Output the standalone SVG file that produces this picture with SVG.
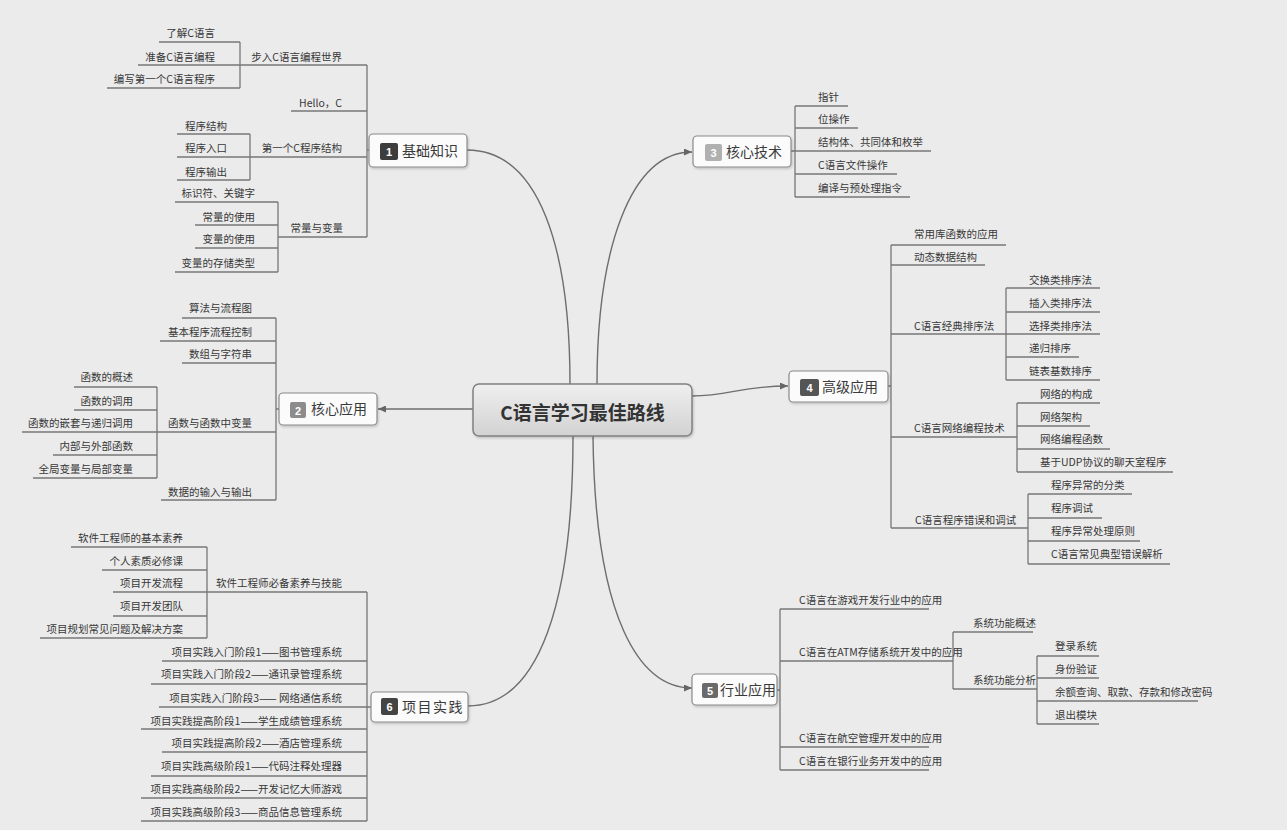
<svg xmlns="http://www.w3.org/2000/svg" width="1287" height="830" viewBox="0 0 1287 830">
<defs>
<style>
.t{font-family:"Noto Sans CJK SC","Liberation Sans",sans-serif;font-size:10.5px;fill:#383838}
.r{text-anchor:end}
.u{stroke:#777;stroke-width:1.3;fill:none}
.c{stroke:#777;stroke-width:1.3;fill:none}
.m{stroke:#6e6e6e;stroke-width:1.4;fill:none}
.box{fill:#fbfbfb;stroke:#8a8a8a;stroke-width:1.2}
.mt{font-family:"Noto Sans CJK SC","Liberation Sans",sans-serif;font-size:14px;fill:#3a3a3a}
.ic{font-family:"Liberation Sans",sans-serif;font-size:11px;font-weight:bold;fill:#fff;text-anchor:middle}
</style>
<linearGradient id="cg" x1="0" y1="0" x2="0" y2="1">
<stop offset="0" stop-color="#efefef"/>
<stop offset="1" stop-color="#d2d2d2"/>
</linearGradient>
<filter id="sh" x="-10%" y="-20%" width="120%" height="150%">
<feDropShadow dx="1" dy="1.5" stdDeviation="1" flood-color="#000" flood-opacity="0.18"/>
</filter>
<marker id="ar" markerUnits="userSpaceOnUse" markerWidth="8" markerHeight="7" refX="8" refY="3.5" orient="auto">
<path d="M0,0 L8,3.5 L0,7 z" fill="#666"/>
</marker>
</defs>
<rect width="1287" height="830" fill="#ebebeb"/>

<g id="connectors">
<path class="m" d="M570,384 C570,250 540,150 467,150"/>
<path class="m" d="M597,384 C597,250 630,152 692,152" marker-end="url(#ar)"/>
<path class="m" d="M473,409 L378,409" marker-end="url(#ar)"/>
<path class="m" d="M692,396 C730,396 740,386 788,386" marker-end="url(#ar)"/>
<path class="m" d="M573,436 C573,600 540,706 468,706"/>
<path class="m" d="M593,436 C595,620 640,688 692,688" marker-end="url(#ar)"/>
<path class="c" d="M369,150 H367 M367,65 V237"/>
<path class="c" d="M240,42 V88"/>
<path class="c" d="M250,134 V180"/>
<path class="c" d="M278,202 V272"/>
<path class="c" d="M279,409 H276 M276,318 V500"/>
<path class="c" d="M157,387 V478"/>
<path class="c" d="M371,707 H367 M367,592 V821"/>
<path class="c" d="M207,547 V638"/>
<path class="c" d="M791,151 H795 M795,106 V197"/>
<path class="c" d="M888,386 H891 M891,245 V528"/>
<path class="c" d="M1006,288 V380"/>
<path class="c" d="M1017,403 V472"/>
<path class="c" d="M1028,494 V564"/>
<path class="c" d="M777,690 H780 M780,609 V770"/>
<path class="c" d="M953,632 V689"/>
<path class="c" d="M1037,656 V724"/>
</g>

<g id="root">
<rect x="473" y="384" width="219" height="52" rx="6" fill="url(#cg)" stroke="#808080" stroke-width="1.5" filter="url(#sh)"/>
<text x="582.5" y="420" text-anchor="middle" font-family="'Noto Sans CJK SC','Liberation Sans',sans-serif" font-size="19" font-weight="bold" fill="#333">C语言学习最佳路线</text>
</g>

<g id="n1">
<rect class="box" x="369" y="134" width="98" height="33" rx="4" filter="url(#sh)"/>
<rect x="380" y="143" width="18" height="17" rx="2" fill="#3d3d3d"/>
<text class="ic" x="389" y="156">1</text>
<text class="mt" x="402" y="155.5">基础知识</text>
</g>
<g id="n1-1"><path class="u" d="M240,65 H367"/><text class="t r" x="342" y="61">步入C语言编程世界</text></g>
<g id="n1-1-1"><path class="u" d="M159,42 H240"/><text class="t r" x="215" y="37">了解C语言</text></g>
<g id="n1-1-2"><path class="u" d="M138,65 H240"/><text class="t r" x="215" y="61">准备C语言编程</text></g>
<g id="n1-1-3"><path class="u" d="M107,88 H240"/><text class="t r" x="215" y="83">编写第一个C语言程序</text></g>
<g id="n1-2"><path class="u" d="M291,111 H367"/><text class="t r" x="342" y="107">Hello，C</text></g>
<g id="n1-3"><path class="u" d="M250,157 H367"/><text class="t r" x="342" y="152">第一个C程序结构</text></g>
<g id="n1-3-1"><path class="u" d="M177,134 H250"/><text class="t r" x="227" y="130">程序结构</text></g>
<g id="n1-3-2"><path class="u" d="M177,157 H250"/><text class="t r" x="227" y="152">程序入口</text></g>
<g id="n1-3-3"><path class="u" d="M177,180 H250"/><text class="t r" x="227" y="176">程序输出</text></g>
<g id="n1-4"><path class="u" d="M278,237 H367"/><text class="t r" x="343" y="232">常量与变量</text></g>
<g id="n1-4-1"><path class="u" d="M175,202 H278"/><text class="t r" x="255" y="197">标识符、关键字</text></g>
<g id="n1-4-2"><path class="u" d="M195,225 H278"/><text class="t r" x="255" y="221">常量的使用</text></g>
<g id="n1-4-3"><path class="u" d="M195,248 H278"/><text class="t r" x="255" y="243">变量的使用</text></g>
<g id="n1-4-4"><path class="u" d="M175,272 H278"/><text class="t r" x="255" y="267">变量的存储类型</text></g>

<g id="n2">
<rect class="box" x="279" y="393" width="98" height="32" rx="4" filter="url(#sh)"/>
<rect x="290" y="402" width="16" height="16" rx="2" fill="#8c8c8c"/>
<text class="ic" x="298" y="414.5">2</text>
<text class="mt" x="311" y="414">核心应用</text>
</g>
<g id="n2-1"><path class="u" d="M182,318 H276"/><text class="t r" x="252" y="312">算法与流程图</text></g>
<g id="n2-2"><path class="u" d="M160,341 H276"/><text class="t r" x="252" y="336">基本程序流程控制</text></g>
<g id="n2-3"><path class="u" d="M182,363 H276"/><text class="t r" x="252" y="358">数组与字符串</text></g>
<g id="n2-4"><path class="u" d="M157,432 H276"/><text class="t r" x="252" y="427">函数与函数中变量</text></g>
<g id="n2-4-1"><path class="u" d="M74,387 H157"/><text class="t r" x="133" y="381">函数的概述</text></g>
<g id="n2-4-2"><path class="u" d="M74,410 H157"/><text class="t r" x="133" y="405">函数的调用</text></g>
<g id="n2-4-3"><path class="u" d="M22,432 H157"/><text class="t r" x="133" y="427">函数的嵌套与递归调用</text></g>
<g id="n2-4-4"><path class="u" d="M53,455 H157"/><text class="t r" x="133" y="450">内部与外部函数</text></g>
<g id="n2-4-5"><path class="u" d="M33,478 H157"/><text class="t r" x="133" y="473">全局变量与局部变量</text></g>
<g id="n2-5"><path class="u" d="M161,500 H276"/><text class="t r" x="252" y="496">数据的输入与输出</text></g>

<g id="n6">
<rect class="box" x="371" y="692" width="97" height="30" rx="4" filter="url(#sh)"/>
<rect x="381" y="698" width="17" height="17" rx="2" fill="#444"/>
<text class="ic" x="389.5" y="711">6</text>
<text class="mt" x="402" y="712" letter-spacing="1.5">项目实践</text>
</g>
<g id="n6-1"><path class="u" d="M207,592 H367"/><text class="t r" x="342" y="587">软件工程师必备素养与技能</text></g>
<g id="n6-1-1"><path class="u" d="M71,547 H207"/><text class="t r" x="183" y="542">软件工程师的基本素养</text></g>
<g id="n6-1-2"><path class="u" d="M102,570 H207"/><text class="t r" x="183" y="565">个人素质必修课</text></g>
<g id="n6-1-3"><path class="u" d="M113,592 H207"/><text class="t r" x="183" y="587">项目开发流程</text></g>
<g id="n6-1-4"><path class="u" d="M113,616 H207"/><text class="t r" x="183" y="610">项目开发团队</text></g>
<g id="n6-1-5"><path class="u" d="M40,638 H207"/><text class="t r" x="183" y="633">项目规划常见问题及解决方案</text></g>
<g id="n6-2"><path class="u" d="M162,661 H367"/><text class="t r" x="342" y="656">项目实践入门阶段1——图书管理系统</text></g>
<g id="n6-3"><path class="u" d="M151,684 H367"/><text class="t r" x="342" y="678">项目实践入门阶段2——通讯录管理系统</text></g>
<g id="n6-4"><path class="u" d="M159,707 H367"/><text class="t r" x="342" y="702">项目实践入门阶段3—— 网络通信系统</text></g>
<g id="n6-5"><path class="u" d="M141,729 H367"/><text class="t r" x="342" y="725">项目实践提高阶段1——学生成绩管理系统</text></g>
<g id="n6-6"><path class="u" d="M162,752 H367"/><text class="t r" x="342" y="747">项目实践提高阶段2——酒店管理系统</text></g>
<g id="n6-7"><path class="u" d="M151,776 H367"/><text class="t r" x="342" y="770">项目实践高级阶段1——代码注释处理器</text></g>
<g id="n6-8"><path class="u" d="M141,798 H367"/><text class="t r" x="342" y="793">项目实践高级阶段2——开发记忆大师游戏</text></g>
<g id="n6-9"><path class="u" d="M141,821 H367"/><text class="t r" x="342" y="816">项目实践高级阶段3——商品信息管理系统</text></g>

<g id="n3">
<rect class="box" x="693" y="136" width="98" height="31" rx="4" filter="url(#sh)"/>
<rect x="705" y="144" width="17" height="17" rx="2" fill="#b0b0b0"/>
<text class="ic" x="713.5" y="157">3</text>
<text class="mt" x="726" y="156.5">核心技术</text>
</g>
<g id="n3-1"><path class="u" d="M795,106 H848"/><text class="t" x="818" y="101">指针</text></g>
<g id="n3-2"><path class="u" d="M795,128 H858"/><text class="t" x="818" y="123">位操作</text></g>
<g id="n3-3"><path class="u" d="M795,151 H931"/><text class="t" x="818" y="146">结构体、共同体和枚举</text></g>
<g id="n3-4"><path class="u" d="M795,174 H897"/><text class="t" x="818" y="169">C语言文件操作</text></g>
<g id="n3-5"><path class="u" d="M795,197 H910"/><text class="t" x="818" y="192">编译与预处理指令</text></g>

<g id="n4">
<rect class="box" x="789" y="371" width="99" height="31" rx="4" filter="url(#sh)"/>
<rect x="800" y="379" width="19" height="17" rx="2" fill="#555"/>
<text class="ic" x="809.5" y="392">4</text>
<text class="mt" x="822" y="391.5">高级应用</text>
</g>
<g id="n4-1"><path class="u" d="M891,245 H1006"/><text class="t" x="914" y="238">常用库函数的应用</text></g>
<g id="n4-2"><path class="u" d="M891,265 H985"/><text class="t" x="914" y="261">动态数据结构</text></g>
<g id="n4-3"><path class="u" d="M891,334 H1006"/><text class="t" x="914" y="330">C语言经典排序法</text></g>
<g id="n4-3-1"><path class="u" d="M1006,288 H1100"/><text class="t" x="1029" y="284">交换类排序法</text></g>
<g id="n4-3-2"><path class="u" d="M1006,312 H1100"/><text class="t" x="1029" y="307">插入类排序法</text></g>
<g id="n4-3-3"><path class="u" d="M1006,334 H1100"/><text class="t" x="1029" y="330">选择类排序法</text></g>
<g id="n4-3-4"><path class="u" d="M1006,357 H1079"/><text class="t" x="1029" y="352">递归排序</text></g>
<g id="n4-3-5"><path class="u" d="M1006,380 H1100"/><text class="t" x="1029" y="375">链表基数排序</text></g>
<g id="n4-4"><path class="u" d="M891,437 H1017"/><text class="t" x="914" y="432">C语言网络编程技术</text></g>
<g id="n4-4-1"><path class="u" d="M1017,403 H1100"/><text class="t" x="1040" y="398">网络的构成</text></g>
<g id="n4-4-2"><path class="u" d="M1017,426 H1090"/><text class="t" x="1040" y="421">网络架构</text></g>
<g id="n4-4-3"><path class="u" d="M1017,449 H1110"/><text class="t" x="1040" y="443">网络编程函数</text></g>
<g id="n4-4-4"><path class="u" d="M1017,472 H1173"/><text class="t" x="1040" y="466">基于UDP协议的聊天室程序</text></g>
<g id="n4-5"><path class="u" d="M891,528 H1028"/><text class="t" x="915" y="524">C语言程序错误和调试</text></g>
<g id="n4-5-1"><path class="u" d="M1028,494 H1132"/><text class="t" x="1051" y="489">程序异常的分类</text></g>
<g id="n4-5-2"><path class="u" d="M1028,518 H1102"/><text class="t" x="1051" y="512">程序调试</text></g>
<g id="n4-5-3"><path class="u" d="M1028,541 H1140"/><text class="t" x="1051" y="535">程序异常处理原则</text></g>
<g id="n4-5-4"><path class="u" d="M1028,564 H1170"/><text class="t" x="1051" y="558">C语言常见典型错误解析</text></g>

<g id="n5">
<rect class="box" x="692" y="674" width="85" height="31" rx="4" filter="url(#sh)"/>
<rect x="702" y="683" width="16" height="15" rx="2" fill="#6a6a6a"/>
<text class="ic" x="710" y="695">5</text>
<text class="mt" x="720" y="694.5" font-size="13">行业应用</text>
</g>
<g id="n5-1"><path class="u" d="M780,609 H929"/><text class="t" x="799" y="604">C语言在游戏开发行业中的应用</text></g>
<g id="n5-2"><path class="u" d="M780,661 H953"/><text class="t" x="799" y="656">C语言在ATM存储系统开发中的应用</text></g>
<g id="n5-2-1"><path class="u" d="M953,632 H1033"/><text class="t" x="973" y="627">系统功能概述</text></g>
<g id="n5-2-2"><path class="u" d="M953,689 H1037"/><text class="t" x="973" y="684">系统功能分析</text></g>
<g id="n5-2-2-1"><path class="u" d="M1037,656 H1099"/><text class="t" x="1055" y="650">登录系统</text></g>
<g id="n5-2-2-2"><path class="u" d="M1037,678 H1099"/><text class="t" x="1055" y="673">身份验证</text></g>
<g id="n5-2-2-3"><path class="u" d="M1037,701 H1198"/><text class="t" x="1055" y="696">余额查询、取款、存款和修改密码</text></g>
<g id="n5-2-2-4"><path class="u" d="M1037,724 H1099"/><text class="t" x="1055" y="719">退出模块</text></g>
<g id="n5-3"><path class="u" d="M780,747 H929"/><text class="t" x="799" y="742">C语言在航空管理开发中的应用</text></g>
<g id="n5-4"><path class="u" d="M780,770 H929"/><text class="t" x="799" y="765">C语言在银行业务开发中的应用</text></g>
</svg>
